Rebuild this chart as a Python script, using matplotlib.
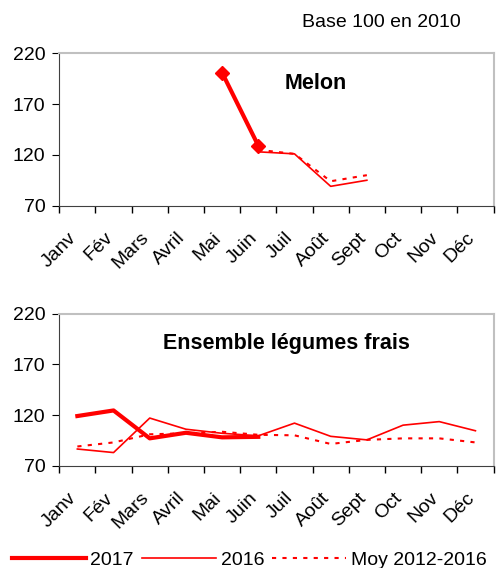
import numpy as np
import matplotlib
matplotlib.use("Agg")
import matplotlib.pyplot as plt
import matplotlib.transforms as mtransforms
from matplotlib.lines import Line2D

plt.rcParams['font.family'] = ['Liberation Sans', 'DejaVu Sans']

mois = ['Janv', 'Fév', 'Mars', 'Avril', 'Mai', 'Juin',
        'Juil', 'Août', 'Sept', 'Oct', 'Nov', 'Déc']
nan = np.nan

# Melon
melon_2017 = [nan, nan, nan, nan, 201, 129, nan, nan, nan, nan, nan, nan]
melon_2016 = [nan, nan, nan, nan, nan, 123, 121, 89, 95, nan, nan, nan]
melon_moy = [nan, nan, nan, nan, nan, 125, 121, 94, 100, nan, nan, nan]

# Ensemble légumes frais
leg_2017 = [119, 124.5, 97, 102.5, 98, 98.5, nan, nan, nan, nan, nan, nan]
leg_2016 = [86.5, 83, 117, 106, 102, 99.5, 112, 99, 95.5, 110, 113.5, 104.5]
leg_moy = [89, 93, 101, 102, 103.5, 100.5, 100, 91.5, 95.5, 97, 97, 93]

red = '#ff0000'
fs = 14

fig = plt.figure(figsize=(4.98, 5.68), dpi=100)
ax1 = fig.add_axes([0.119, 0.638, 0.872, 0.268])
ax2 = fig.add_axes([0.119, 0.180, 0.872, 0.268])

x = np.arange(12)
shift = mtransforms.ScaledTranslation(-7 / 72, 0, fig.dpi_scale_trans)


def style(ax, title, tx):
    ax.set_xlim(-0.5, 11.5)
    ax.set_ylim(70, 220)
    ax.set_yticks([70, 120, 170, 220])
    ax.set_xticks(np.arange(-0.5, 12, 1))
    ax.set_xticklabels([])
    ax.set_xticks(x, minor=True)
    ax.set_xticklabels(mois, minor=True, rotation=45, ha='right',
                       rotation_mode='anchor', fontsize=fs)
    ax.tick_params(axis='x', which='minor', length=0, pad=17)
    ax.tick_params(axis='x', which='major', length=5, direction='out', width=1)
    ax.tick_params(axis='y', length=5, direction='out', labelsize=fs, pad=5)
    for s in ['top', 'right']:
        ax.spines[s].set_color('#c0c0c0')
        ax.spines[s].set_linewidth(1.5)
    for s in ['left', 'bottom']:
        ax.spines[s].set_color('#404040')
    for lab in ax.get_xticklabels(minor=True):
        lab.set_transform(lab.get_transform() + shift)
    ax.text(tx, 0.805, title, transform=ax.transAxes, ha='center',
            va='center', fontsize=15.5, fontweight='bold')


ax1.plot(x, melon_moy, color=red, lw=1.5, ls=(0, (2, 3)))
ax1.plot(x, melon_2016, color=red, lw=1.2)
ax1.plot(x, melon_2017, color=red, lw=3, marker='D', markersize=7)
style(ax1, 'Melon', 0.59)

ax2.plot(x, leg_moy, color=red, lw=1.5, ls=(0, (2, 3)))
ax2.plot(x, leg_2016, color=red, lw=1.2)
ax2.plot(x, leg_2017, color=red, lw=3)
style(ax2, 'Ensemble légumes frais', 0.524)

fig.text(0.765, 0.961, 'Base 100 en 2010', ha='center', va='center', fontsize=fs)

handles = [Line2D([], [], color=red, lw=3),
           Line2D([], [], color=red, lw=1.2),
           Line2D([], [], color=red, lw=1.5, ls=(0, (2, 3)))]
fig.legend(handles, ['2017', '2016', 'Moy 2012-2016'], loc='center',
           bbox_to_anchor=(0.5, 0.014), ncol=3, frameon=False, fontsize=fs,
           handlelength=3.8, handletextpad=0.25, columnspacing=0.4,
           borderpad=0, borderaxespad=0)

fig.savefig('out.png', dpi=100)
